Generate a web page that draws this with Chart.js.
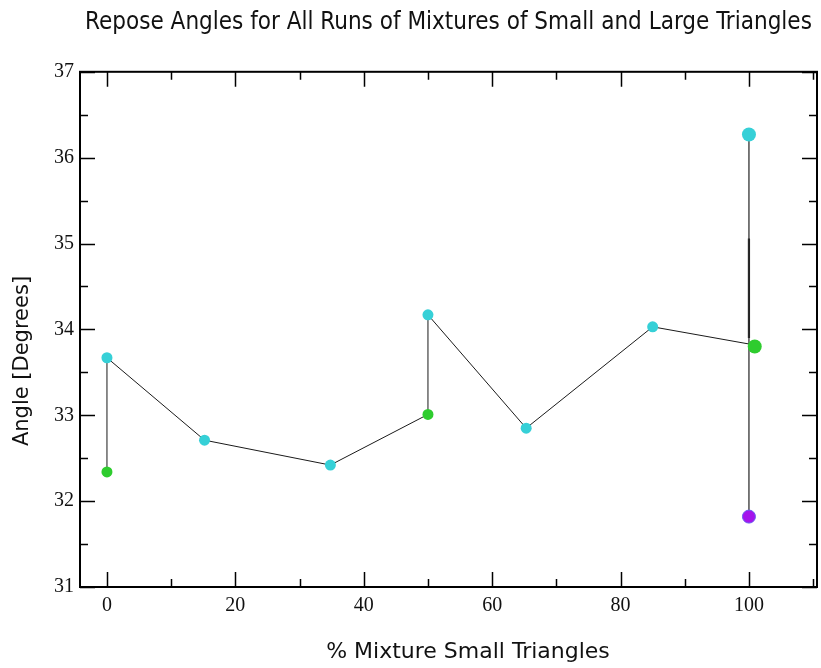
<!DOCTYPE html>
<html>
<head>
<meta charset="utf-8">
<script src="https://cdn.jsdelivr.net/npm/chart.js@4/dist/chart.umd.min.js"></script>
<style>
  html, body { margin: 0; padding: 0; background: #fff; }
  canvas { display: block; }
</style>
</head>
<body>
<canvas id="c" width="821" height="668"></canvas>
<script>
// Repose angle measurements (degrees) against % of small triangles in the mix
const cyanX = [0, 15.2, 34.8, 50, 65.3, 85];
const cyanY = [33.67, 32.71, 32.42, 34.17, 32.85, 34.03];
const greenX = [0, 50];
const greenY = [32.34, 33.01];
const bigCyanX = [100];
const bigCyanY = [36.27];
const bigGreenX = [100.9];
const bigGreenY = [33.80];
const purpleX = [100];
const purpleY = [31.82];

// Connecting trace, in drawing order
const traceX = [0, 0, 15.2, 34.8, 50, 50, 65.3, 85, 100];
const traceY = [32.34, 33.67, 32.71, 32.42, 33.01, 34.17, 32.85, 34.03, 33.83];
// Vertical spread of the pure small-triangle runs
const spreadX = [100, 100];
const spreadY = [36.27, 31.82];
const overlapX = [100, 100];
const overlapY = [33.9, 35.06];

// Axis ranges and tick spacing
const xMin = -4.2, xMax = 110.6, xMajor = 20, xMinor = 10;
const yMin = 31, yMax = 37, yMajor = 1, yMinor = 0.5;

const pts = (xs, ys) => xs.map((x, i) => ({ x: x, y: ys[i] }));

const CYAN = '#36d0d7';
const GREEN = '#2ecc2e';
const PURPLE = '#a414ec';

// Frame with inward major/minor ticks on all four sides
const frameTicks = {
  id: 'frameTicks',
  beforeDatasetsDraw(chart) {
    const { ctx, chartArea: a, scales } = chart;
    const xs = scales.x, ys = scales.y;
    ctx.save();
    ctx.strokeStyle = '#000';
    ctx.lineWidth = 1.5;
    const eps = 1e-9;
    const marks = (min, max, step) => {
      const out = [];
      for (let v = Math.ceil(min / step - eps) * step; v <= max + eps; v += step) out.push(v);
      return out;
    };
    ctx.beginPath();
    marks(xMin, xMax, xMinor).forEach(v => {
      const major = Math.abs(v / xMajor - Math.round(v / xMajor)) < 1e-6;
      const len = major ? 15 : 8;
      const px = Math.round(xs.getPixelForValue(v)) + 0.5;
      ctx.moveTo(px, a.bottom); ctx.lineTo(px, a.bottom - len);
      ctx.moveTo(px, a.top); ctx.lineTo(px, a.top + len);
    });
    marks(yMin, yMax, yMinor).forEach(v => {
      const major = Math.abs(v / yMajor - Math.round(v / yMajor)) < 1e-6;
      const len = major ? 15 : 8;
      const py = Math.round(ys.getPixelForValue(v)) + 0.5;
      ctx.moveTo(a.left, py); ctx.lineTo(a.left + len, py);
      ctx.moveTo(a.right, py); ctx.lineTo(a.right - len, py);
    });
    ctx.stroke();
    ctx.lineWidth = 2;
    ctx.strokeRect(a.left, a.top, a.right - a.left, a.bottom - a.top);
    ctx.restore();
  },
  afterDraw(chart) {
    const { ctx } = chart;
    ctx.save();
    ctx.fillStyle = '#111';
    ctx.textAlign = 'center';
    ctx.textBaseline = 'middle';
    ctx.font = '22px "DejaVu Sans"';
    ctx.fillText('% Mixture Small Triangles', 468, 652);
    ctx.font = '21px "DejaVu Sans"';
    ctx.translate(23, 361);
    ctx.rotate(-Math.PI / 2);
    ctx.fillText('Angle [Degrees]', 0, 0);
    ctx.restore();
  }
};

const markerSet = (xs, ys, color, r) => ({
  data: pts(xs, ys),
  showLine: false,
  pointRadius: r,
  pointHoverRadius: r,
  pointBackgroundColor: color,
  pointBorderColor: color,
  pointBorderWidth: 0,
  order: 0
});
const lineSet = (xs, ys, w, color) => ({
  data: pts(xs, ys),
  showLine: true,
  pointRadius: 0,
  borderColor: color,
  borderWidth: w,
  fill: false,
  tension: 0,
  order: 1
});

new Chart(document.getElementById('c'), {
  type: 'scatter',
  data: {
    datasets: [
      lineSet(traceX, traceY, 1, '#1a1a1a'),
      lineSet(spreadX, spreadY, 1.3, '#333'),
      lineSet(overlapX, overlapY, 2.2, '#111'),
      markerSet(cyanX, cyanY, CYAN, 5.5),
      markerSet(greenX, greenY, GREEN, 5.5),
      markerSet(bigCyanX, bigCyanY, CYAN, 7),
      markerSet(bigGreenX, bigGreenY, GREEN, 7),
      Object.assign(markerSet(purpleX, purpleY, PURPLE, 6.5), { pointBorderColor: '#6a5cf0', pointBorderWidth: 1 })
    ]
  },
  options: {
    responsive: false,
    animation: false,
    devicePixelRatio: 1,
    layout: { autoPadding: false, padding: { left: 0, right: 4, top: 0, bottom: 0 } },
    plugins: {
      legend: { display: false },
      tooltip: { enabled: false },
      title: {
        display: true,
        fullSize: false,
        text: 'Repose Angles for All Runs of Mixtures of Small and Large Triangles',
        color: '#111',
        font: { family: '"DejaVu Sans Condensed", "DejaVu Sans"', size: 24, weight: 'normal', lineHeight: 1.2 },
        padding: { top: 8, bottom: 35 }
      }
    },
    scales: {
      x: {
        type: 'linear',
        min: xMin,
        max: xMax,
        grid: { display: false, drawTicks: false },
        border: { display: false },
        ticks: {
          stepSize: xMajor,
          includeBounds: false,
          padding: 7,
          color: '#111',
          font: { family: '"Liberation Serif"', size: 20 }
        },
        afterFit(s) { s.height = 81; }
      },
      y: {
        type: 'linear',
        min: yMin,
        max: yMax,
        grid: { display: false, drawTicks: false },
        border: { display: false },
        ticks: {
          stepSize: yMajor,
          padding: 6,
          color: '#111',
          font: { family: '"Liberation Serif"', size: 20 }
        },
        afterFit(s) { s.width = 80; }
      }
    }
  },
  plugins: [frameTicks]
});
</script>
</body>
</html>
